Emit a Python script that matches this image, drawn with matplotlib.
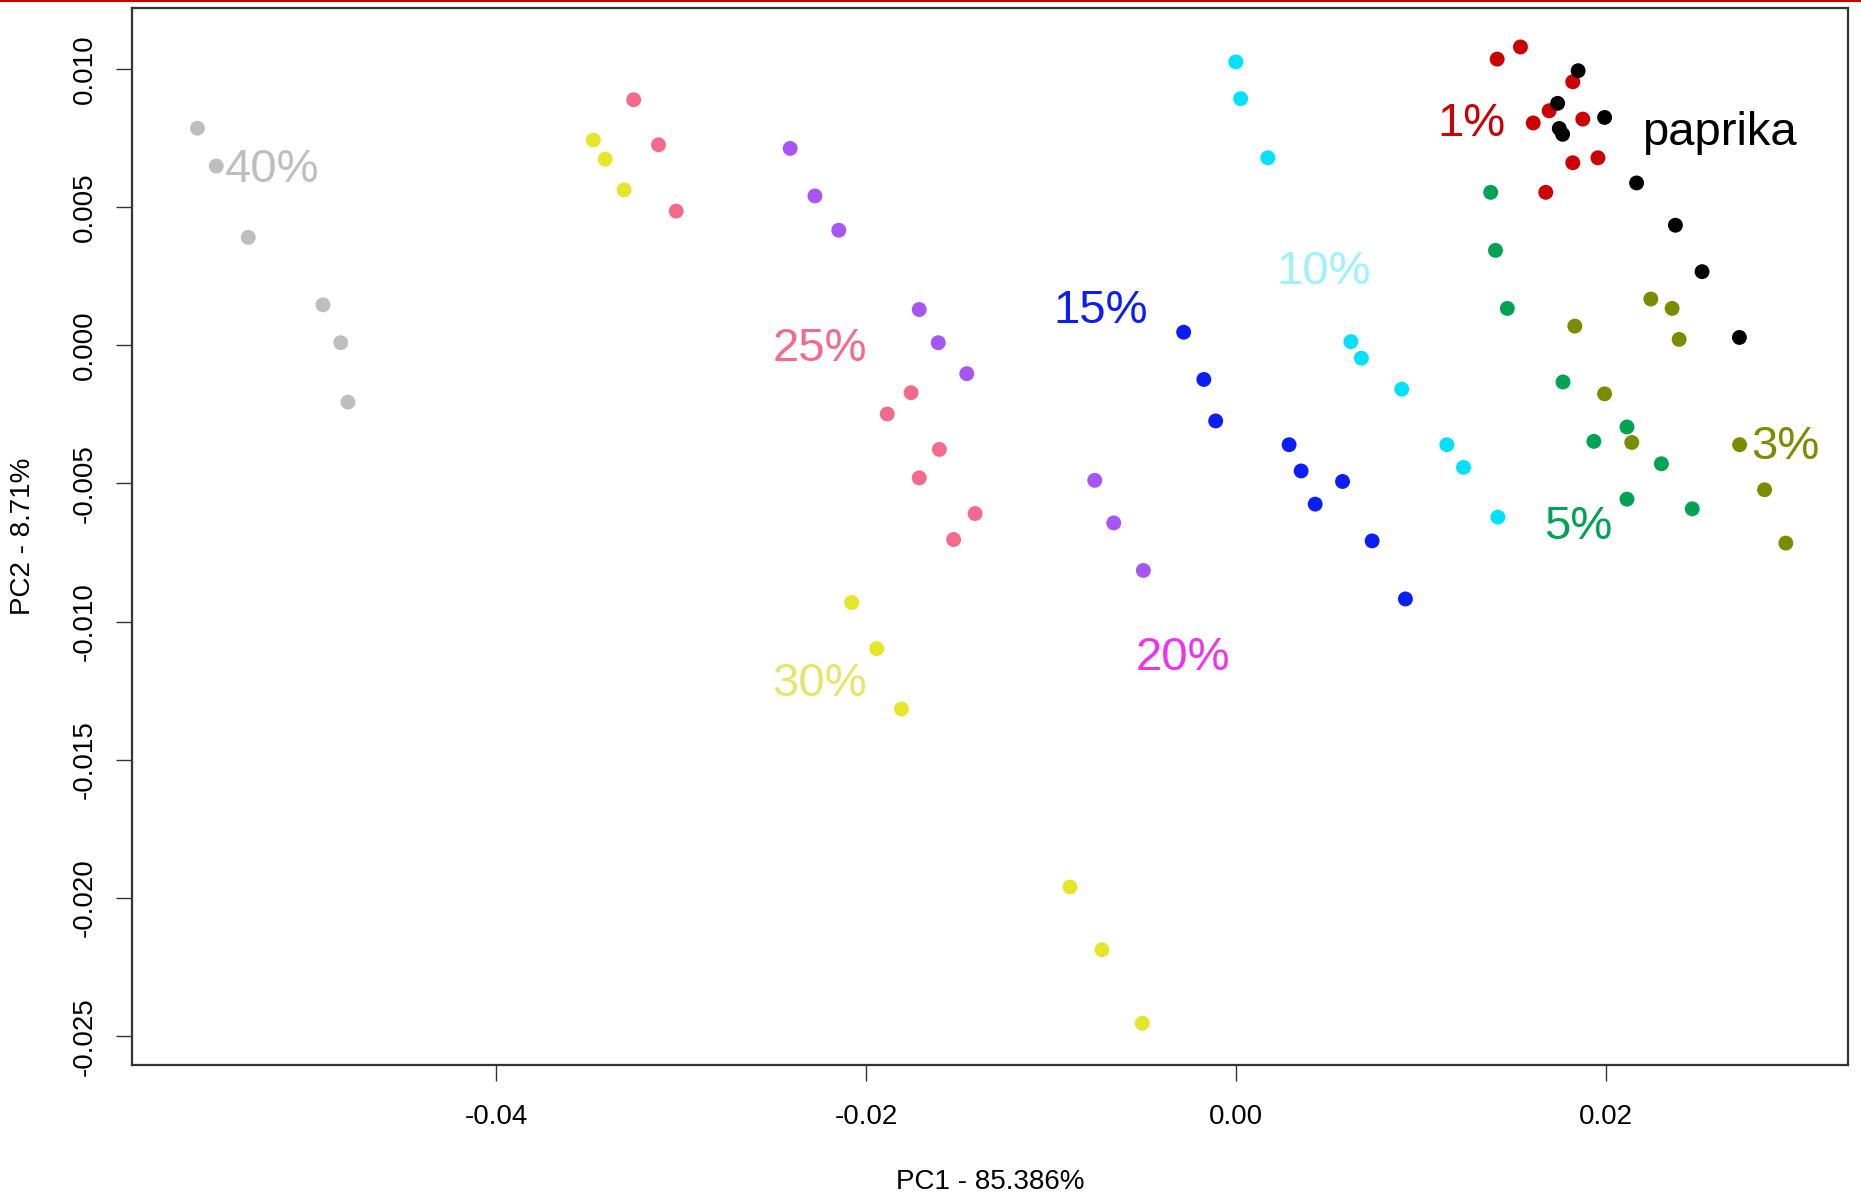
import matplotlib.pyplot as plt
import matplotlib.lines as mlines

plt.rcParams['font.family'] = ['Liberation Sans', 'DejaVu Sans']

# group order, colours and PCA scores
groups = ['40%', '30%', '25%', '20%', '15%', '10%', '5%', '3%', '1%', 'paprika']
point_colors = ['#BEBEBE', '#E5E52A', '#F46A8A', '#A855F7', '#0A1EF5',
                '#00E1FF', '#00A352', '#7A8C00', '#CC0000', '#000000']
label_colors = ['#BEBEBE', '#E5E56A', '#F46A8A', '#EE33EE', '#0A1EF5',
                '#9CF2FF', '#00A352', '#7A8C00', '#CC0000', '#000000']

pc1 = {
    '40%': [-0.05615, -0.05513, -0.05340, -0.04936, -0.04840, -0.04801],
    '30%': [-0.03474, -0.03410, -0.03308, -0.02077, -0.01942, -0.01808,
            -0.00897, -0.00724, -0.00506],
    '25%': [-0.03256, -0.03122, -0.03026, -0.01756, -0.01885, -0.01603,
            -0.01712, -0.01410, -0.01526],
    '20%': [-0.02410, -0.02276, -0.02147, -0.01712, -0.01609, -0.01455,
            -0.00763, -0.00660, -0.00500],
    '15%': [-0.00282, -0.00173, -0.00109, 0.00288, 0.00353, 0.00429,
            0.00577, 0.00737, 0.00917],
    '10%': [0.00000, 0.00026, 0.00173, 0.00622, 0.00679, 0.00897,
            0.01141, 0.01231, 0.01417],
    '5%': [0.01378, 0.01404, 0.01468, 0.01769, 0.01936, 0.02115,
           0.02115, 0.02301, 0.02468],
    '3%': [0.02244, 0.02359, 0.02397, 0.01833, 0.01994, 0.02141,
           0.02724, 0.02859, 0.02974],
    '1%': [0.01539, 0.01413, 0.01822, 0.01694, 0.01608, 0.01876,
           0.01822, 0.01958, 0.01676],
    'paprika': [0.01851, 0.01740, 0.01749, 0.01767, 0.01994, 0.02167,
                0.02377, 0.02521, 0.02723],
}
pc2 = {
    '40%': [0.00785, 0.00648, 0.00390, 0.00146, 0.00009, -0.00206],
    '30%': [0.00742, 0.00673, 0.00562, -0.00931, -0.01098, -0.01316,
            -0.01960, -0.02187, -0.02453],
    '25%': [0.00888, 0.00725, 0.00485, -0.00172, -0.00249, -0.00377,
            -0.00480, -0.00609, -0.00703],
    '20%': [0.00712, 0.00540, 0.00416, 0.00129, 0.00009, -0.00103,
            -0.00489, -0.00643, -0.00815],
    '15%': [0.00047, -0.00124, -0.00274, -0.00360, -0.00455, -0.00575,
            -0.00493, -0.00708, -0.00918],
    '10%': [0.01025, 0.00892, 0.00678, 0.00013, -0.00047, -0.00159,
            -0.00360, -0.00442, -0.00622],
    '5%': [0.00553, 0.00343, 0.00133, -0.00133, -0.00348, -0.00296,
           -0.00557, -0.00429, -0.00592],
    '3%': [0.00167, 0.00133, 0.00021, 0.00069, -0.00176, -0.00352,
           -0.00360, -0.00523, -0.00716],
    '1%': [0.01079, 0.01035, 0.00953, 0.00848, 0.00804, 0.00818,
           0.00660, 0.00678, 0.00553],
    'paprika': [0.00993, 0.00875, 0.00784, 0.00763, 0.00824, 0.00587,
                0.00434, 0.00266, 0.00028],
}

# where each group name is written
label_x = [-0.05212, -0.0225, -0.0225, -0.00288, -0.00731, 0.00474,
           0.01853, 0.02974, 0.01276, 0.02615]
label_y = [0.00635, -0.01226, -0.00013, -0.01132, 0.00124, 0.00266,
           -0.00656, -0.00369, 0.00802, 0.00768]

xticks = [-0.04, -0.02, 0.00, 0.02]
yticks = [0.010, 0.005, 0.000, -0.005, -0.010, -0.015, -0.020, -0.025]

fig = plt.figure(figsize=(18.61, 11.96), dpi=100)
ax = fig.add_axes([0.0708, 0.1098, 0.9222, 0.8833])

for g, c in zip(groups, point_colors):
    ax.scatter(pc1[g], pc2[g], s=115, color=c, edgecolors='none', zorder=3)

for g, c, lx, ly in zip(groups, label_colors, label_x, label_y):
    ax.text(lx, ly, g, color=c, fontsize=34, ha='center', va='center', zorder=4)

ax.set_xlim(-0.0597, 0.0331)
ax.set_ylim(-0.02603, 0.01219)
ax.set_xticks(xticks)
ax.set_xticklabels(['%.2f' % v for v in xticks])
ax.set_yticks(yticks)
ax.set_yticklabels(['%.3f' % v for v in yticks], rotation=90, va='center')
ax.tick_params(axis='both', labelsize=20, length=11.5, width=1.0,
               color='#333333', pad=13)
ax.tick_params(axis='x', pad=17)
for sp in ax.spines.values():
    sp.set_linewidth(1.6)
    sp.set_color('#333333')

ax.set_xlabel('PC1 - 85.386%', fontsize=20, labelpad=28)
ax.set_ylabel('PC2 - 8.71%', fontsize=20, labelpad=26)

# thin red line at the top edge of the screenshot
fig.add_artist(mlines.Line2D([0, 1], [0.999, 0.999], color='#CC0000',
                             linewidth=1.5, transform=fig.transFigure))

plt.savefig('out.png', dpi=100)
plt.close()
